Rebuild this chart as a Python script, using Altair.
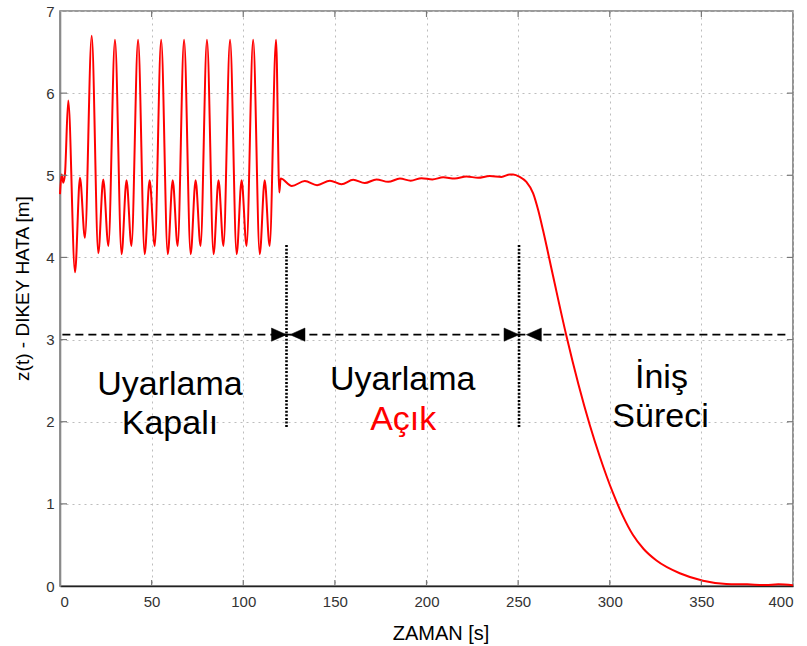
import altair as alt
import pandas as pd

# ---- vertical error z(t) over time: oscillating, adaptive, landing phases ----
time_s = [
    0.0, 0.9, 1.8, 2.7, 4.5, 8.2, 10.9, 13.6,
    17.3, 20.9, 23.6, 26.4,
    30.0, 33.6, 36.3, 39.0,
    42.6, 46.2, 48.9, 51.7,
    55.2, 58.8, 61.5, 64.2,
    67.7, 71.3, 74.0, 76.7,
    80.2, 83.8, 86.5, 89.2,
    92.8, 96.4, 99.1, 101.8,
    105.4, 109.0, 111.7, 114.4,
    117.9, 119.7, 120.4,
    126.5, 133.6, 140.3, 147.3, 153.6, 160.0, 166.3, 172.7, 179.1,
    185.5, 191.4, 197.3, 203.2, 209.1, 215.4, 221.8, 228.1, 234.5,
    240.9, 245.5, 247.3,
    250.9, 254.5, 258.2, 260.9, 263.6, 269.1, 276.4, 289.1,
    294.5, 301.8, 307.0, 312.7, 318.5, 325.5, 338.2, 350.9, 363.6, 375.0, 385.0,
    392.0, 400.0,
]
z_m = [
    4.77, 5.01, 4.91, 5.01, 5.91, 3.82, 4.97, 4.24,
    6.70, 4.05, 4.95, 4.14,
    6.65, 4.04, 4.94, 4.14,
    6.65, 4.04, 4.94, 4.14,
    6.65, 4.04, 4.94, 4.14,
    6.65, 4.04, 4.94, 4.14,
    6.65, 4.04, 4.94, 4.14,
    6.65, 4.04, 4.94, 4.14,
    6.65, 4.04, 4.94, 4.14,
    6.65, 4.79, 4.96,
    4.87, 4.93, 4.88, 4.935, 4.89, 4.945, 4.905, 4.95, 4.92,
    4.96, 4.935, 4.965, 4.95, 4.975, 4.96, 4.985, 4.97, 4.99,
    4.98, 5.01, 5.01,
    4.98, 4.92, 4.78, 4.58, 4.33, 3.77, 3.04, 1.96,
    1.58, 1.13, 0.86, 0.62, 0.45, 0.31, 0.155, 0.065, 0.025, 0.02, 0.012,
    0.02, 0.01,
]

# phase separators and the span arrow line
phase_edges = [123.6, 250.5]
edge_top = 4.15
edge_bottom = 1.92
span_level = 3.06
span_start, span_end = 1.3, 397.8

# arrow heads: tip position and pointing direction
arrow_t = [123.6, 125.5, 250.5, 254.5]
arrow_dir = ["right", "left", "right", "left"]

# phase labels
label_text = ["Uyarlama", "Kapalı", "Uyarlama", "Açık", "İniş", "Süreci"]
label_t = [60.0, 60.0, 187.0, 187.3, 328.2, 327.7]
label_z = [2.33, 1.85, 2.39, 1.904, 2.406, 1.936]
label_color = ["#000000", "#000000", "#000000", "#ff0000", "#000000", "#000000"]

x_ticks = [0, 50, 100, 150, 200, 250, 300, 350, 400]
y_ticks = [0, 1, 2, 3, 4, 5, 6, 7]

W, H = 733, 575
TICK_FONT = "Liberation Sans, Arial"

signal = pd.DataFrame({"t": time_s, "z": z_m})
edges = pd.DataFrame({"t": phase_edges, "top": [edge_top] * 2, "bottom": [edge_bottom] * 2})
span = pd.DataFrame({"t0": [span_start], "t1": [span_end], "z": [span_level]})
arrows = pd.DataFrame({"t": arrow_t, "z": [span_level] * 4, "dir": arrow_dir})
labels = pd.DataFrame({"t": label_t, "z": label_z, "text": label_text, "color": label_color})
xt = pd.DataFrame({"v": x_ticks[1:-1]})
yt = pd.DataFrame({"v": y_ticks[1:-1]})

x_scale = alt.Scale(domain=[0, 400], nice=False, zero=False)
y_scale = alt.Scale(domain=[0, 7], nice=False, zero=False)

x_axis = alt.Axis(
    values=x_ticks, format="d", grid=True, gridDash=[2, 4], gridColor="#bdbdbd", gridWidth=1,
    ticks=False, domainColor="#222222", domainWidth=1.6,
    labelFont=TICK_FONT, labelFontSize=15, labelColor="#333333", labelPadding=8,
    title="ZAMAN [s]", titleFont="Liberation Sans, Arial", titleFontSize=20,
    titleFontWeight="normal", titleColor="#000000",
    titleX=W / 2 + 14, titleY=53, titleBaseline="alphabetic",
)
y_axis = alt.Axis(
    values=y_ticks, format="d", grid=True, gridDash=[2, 4], gridColor="#bdbdbd", gridWidth=1,
    ticks=False, domainColor="#8a8a8a", domainWidth=1.6,
    labelFont=TICK_FONT, labelFontSize=15, labelColor="#333333", labelPadding=6,
    title="z(t) - DIKEY HATA [m]", titleFont="Liberation Sans, Arial", titleFontSize=19,
    titleFontWeight="normal", titleColor="#000000",
    titleAngle=-90, titleX=-38, titleY=277, titleBaseline="middle", titleAlign="center",
)

line = alt.Chart(signal).mark_line(
    color="#ff0000", strokeWidth=2, interpolate="monotone"
).encode(
    x=alt.X("t:Q", scale=x_scale, axis=x_axis),
    y=alt.Y("z:Q", scale=y_scale, axis=y_axis),
)

# inward tick marks on all four sides of the frame
tick_col = "#777777"
x_bottom = alt.Chart(xt).mark_rule(color=tick_col, strokeWidth=1.2).encode(
    x="v:Q", y=alt.value(H), y2=alt.value(H - 6))
x_top = alt.Chart(xt).mark_rule(color=tick_col, strokeWidth=1.2).encode(
    x="v:Q", y=alt.value(0), y2=alt.value(6))
y_left = alt.Chart(yt).mark_rule(color=tick_col, strokeWidth=1.2).encode(
    y="v:Q", x=alt.value(0), x2=alt.value(7))
y_right = alt.Chart(yt).mark_rule(color=tick_col, strokeWidth=1.2).encode(
    y="v:Q", x=alt.value(W), x2=alt.value(W - 6))

span_line = alt.Chart(span).mark_rule(
    color="#000000", strokeWidth=1.8, strokeDash=[8, 5]
).encode(x="t0:Q", x2="t1:Q", y="z:Q")

edge_lines = alt.Chart(edges).mark_rule(
    color="#000000", strokeWidth=2.6, strokeDash=[2, 1.6]
).encode(x="t:Q", y="top:Q", y2="bottom:Q")

head_right = "M0,0L-1,-0.44L-1,0.44Z"
head_left = "M0,0L1,-0.44L1,0.44Z"
heads = alt.Chart(arrows).mark_point(
    filled=True, fill="#000000", stroke="#000000", strokeWidth=0.5, opacity=1, size=900
).encode(
    x="t:Q", y="z:Q",
    shape=alt.Shape("dir:N", scale=alt.Scale(domain=["right", "left"],
                                             range=[head_right, head_left]), legend=None),
)

texts = alt.Chart(labels).mark_text(
    font="Liberation Sans, Arial", fontSize=34, baseline="alphabetic", align="center"
).encode(
    x="t:Q", y="z:Q", text="text:N", color=alt.Color("color:N", scale=None),
)

chart = alt.layer(
    line, x_bottom, x_top, y_left, y_right, span_line, edge_lines, heads, texts
).properties(
    width=W, height=H,
    autosize=alt.AutoSizeParams(type="none"),
    padding={"left": 60, "top": 11, "right": 14, "bottom": 60},
    background="#ffffff",
).configure_view(
    stroke="#7a7a7a", strokeWidth=1.6,
)

chart.save("out.html", embed_options={"renderer": "svg", "actions": False})
